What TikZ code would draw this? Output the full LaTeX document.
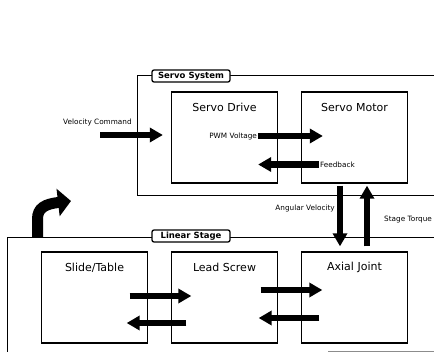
\documentclass[tikz,border=0pt]{standalone}
\usepackage{fontspec}
\setmainfont{DejaVu Sans}
\usetikzlibrary{arrows.meta,calc}
\begin{document}
\begin{tikzpicture}[x=1pt,y=-1pt,
  blk/.style={draw, line width=1.3pt, minimum width=106pt, minimum height=91pt, inner sep=0pt},
  ttl/.style={font=\fontsize{11}{12}\selectfont, inner sep=0pt},
  frm/.style={line width=0.9pt},
  tag/.style={draw, line width=1.3pt, rounded corners=2pt, fill=white, font=\bfseries\fontsize{8.5}{9}\selectfont, inner sep=1pt, minimum width=78pt, minimum height=12pt},
  lbl/.style={font=\fontsize{7.3}{8}\selectfont, inner sep=1pt},
  fat/.style={line width=6.5pt, -{Triangle[length=13pt,width=14pt]}},
]
\useasboundingbox (0,0) rectangle (434,353);

% frames
\draw[frm] (434,75) -- (137,75) -- (137,195) -- (434,195);
\draw[frm] (434,237) -- (7,237) -- (7,352);
\draw[line width=0.9pt, black!45] (328,351.5) -- (434,351.5);

% blocks
\node[blk] (drive) at (224.5,137.5) {};
\node[blk] (motor) at (354.5,137.5) {};
\node[blk] (slide) at (94.5,297.5) {};
\node[blk] (lead)  at (224.5,297.5) {};
\node[blk] (axial) at (354.5,297.5) {};

\node[ttl] (driveT) at ($(drive.north)+(0,16)$) {Servo Drive};
\node[ttl] (motorT) at ($(motor.north)+(0,16)$) {Servo Motor};
\node[ttl] (slideT) at ($(slide.north)+(0,16)$) {Slide/Table};
\node[ttl] (leadT)  at ($(lead.north)+(0,16)$)  {Lead Screw};
\node[ttl] (axialT) at ($(axial.north)+(0,16)$) {Axial Joint};

% frame tags
\node[tag] (servotag) at (191,76) {Servo System};
\node[tag] (lineartag) at (191,236) {Linear Stage};

% velocity command
\coordinate (vcS) at (100,135);
\coordinate (vcE) at ($(drive.west)+(-8,-2.5)$);
\draw[fat] (vcS) -- (vcE);
\node[lbl, anchor=south west] (vcL) at (62,127) {Velocity Command};

% PWM voltage
\coordinate (pwmS) at ($(drive.east)+(-20,-1.5)$);
\coordinate (pwmE) at ($(motor.west)+(22,-1.5)$);
\draw[fat] (pwmS) -- (pwmE);
\node[lbl, anchor=east] (pwmL) at (pwmS) {PWM Voltage};

% feedback
\coordinate (fbS) at ($(motor.west)+(18,27)$);
\coordinate (fbE) at ($(drive.east)+(-20,27)$);
\draw[fat] (fbS) -- (fbE);
\node[lbl, anchor=west] (fbL) at (fbS) {Feedback};

% angular velocity
\coordinate (avS) at ($(motor.south)+(-14.5,2)$);
\coordinate (avE) at ($(axial.north)+(-14.5,-5)$);
\draw[fat] (avS) -- (avE);
\node[lbl, anchor=east] (avL) at (336,208) {Angular Velocity};

% stage torque
\coordinate (stS) at ($(axial.north)+(12.5,-5)$);
\coordinate (stE) at ($(motor.south)+(12.5,2)$);
\draw[fat] (stS) -- (stE);
\node[lbl, anchor=west] (stL) at (383,220) {Stage Torque};

% linear stage arrows
\coordinate (a1S) at ($(slide.east)+(-18.5,-1.5)$);
\coordinate (a1E) at ($(lead.west)+(20.5,-1.5)$);
\draw[fat] (a1S) -- (a1E);
\coordinate (a2S) at ($(lead.west)+(15.5,25.5)$);
\coordinate (a2E) at ($(slide.east)+(-21.5,25.5)$);
\draw[fat] (a2S) -- (a2E);
\coordinate (a3S) at ($(lead.east)+(-17.5,-7.5)$);
\coordinate (a3E) at ($(axial.west)+(21.5,-7.5)$);
\draw[fat] (a3S) -- (a3E);
\coordinate (a4S) at ($(axial.west)+(18.5,20.5)$);
\coordinate (a4E) at ($(lead.east)+(-19.5,20.5)$);
\draw[fat] (a4S) -- (a4E);

% curved output arrow
\coordinate (cuS) at (37.5,237);
\coordinate (cuE) at (71,201);
\draw[line width=11pt, -{Triangle[length=13pt,width=27pt]}] (cuS) -- (37.5,219) .. controls (37.5,208) and (45,204) .. (cuE);
\end{tikzpicture}
\end{document}
